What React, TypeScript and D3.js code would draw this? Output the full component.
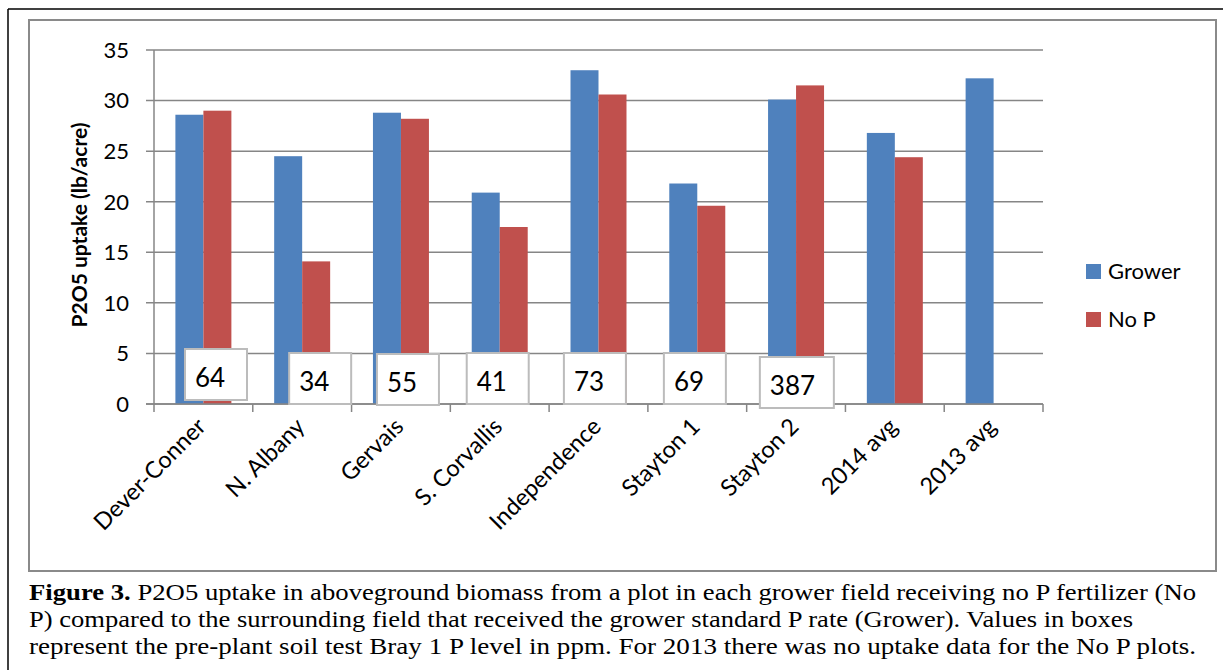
import React from "react";
import * as d3 from "d3";

const categories = ["Dever-Conner", "N. Albany", "Gervais", "S. Corvallis", "Independence", "Stayton 1", "Stayton 2", "2014 avg", "2013 avg"];
const growerValues: (number | null)[] = [28.6, 24.5, 28.8, 20.9, 33.0, 21.8, 30.1, 26.8, 32.2];
const noPValues: (number | null)[] = [29.0, 14.1, 28.2, 17.5, 30.6, 19.6, 31.5, 24.4, null];
const yTicks = [0, 5, 10, 15, 20, 25, 30, 35];
const soilTestValues = ["64", "34", "55", "41", "73", "69", "387"];
const seriesNames = ["Grower", "No P"];
const captionLines = [
  "P2O5 uptake in aboveground biomass from a plot in each grower field receiving no P fertilizer (No",
  "P) compared to the surrounding field that received the grower standard P rate (Grower). Values in boxes",
  "represent the pre-plant soil test Bray 1 P level in ppm. For 2013 there was no uptake data for the No P plots.",
];

// layout (hand-placed annotation boxes, as in the original)
const boxDx = [12.6, 18, 7, -2, -3.6, -2.4, 0.8];
const boxTop = [349, 353, 354, 353, 353, 353, 357];
const boxW = [62, 62, 62, 62, 62, 62, 74];
const captionLen = [1167, 1104, 1167];
const captionBase = [600, 627, 654];

const COLORS = ["#4F81BD", "#C0504D"];
const FONT = "Lato, 'Open Sans', sans-serif";

export default function App() {
  const W = 1223, H = 670;
  const x = d3.scaleBand<string>().domain(categories).range([154, 1043]).padding(0);
  const y = d3.scaleLinear().domain([0, 35]).range([404, 50]);
  const bw = x.bandwidth();
  const barW = (bw * 28) / 98.8;
  const off = (bw - 2 * barW) / 2;
  const series = [growerValues, noPValues];

  return (
    <svg width={W} height={H} style={{ position: "absolute", left: 0, top: 0, background: "#fff" }} fontFamily={FONT}>
      <rect x={0} y={0} width={W} height={H} fill="#fff" />
      {/* outer frame */}
      <line x1={8} y1={9} x2={W} y2={9} stroke="#000" strokeWidth={1.5} />
      <line x1={8} y1={9} x2={8} y2={H} stroke="#000" strokeWidth={1.5} />
      {/* chart area border */}
      <rect x={29} y={20} width={1187} height={551} fill="#fff" stroke="#8a8a8a" strokeWidth={2} />

      {/* gridlines + y ticks */}
      {yTicks.map((t) => (
        <g key={t}>
          <line x1={146} x2={1043} y1={y(t)} y2={y(t)} stroke="#868686" strokeWidth={1.5} />
          <text x={129} y={y(t)} dy="0.36em" textAnchor="end" fontSize={22} fill="#000">{t}</text>
        </g>
      ))}
      {/* y axis line */}
      <line x1={154} x2={154} y1={y(35)} y2={y(0)} stroke="#868686" strokeWidth={1.5} />
      {/* x ticks */}
      {[...categories.map((c) => x(c)!), 1043].map((px, i) => (
        <line key={i} x1={px} x2={px} y1={y(0)} y2={y(0) + 8} stroke="#868686" strokeWidth={1.5} />
      ))}

      {/* bars */}
      {series.map((vals, si) =>
        vals.map((v, i) =>
          v == null ? null : (
            <rect key={si + "-" + i} x={x(categories[i])! + off + si * barW} y={y(v)} width={barW} height={y(0) - y(v)} fill={COLORS[si]} />
          )
        )
      )}
      {/* redraw baseline over bars */}
      <line x1={146} x2={1043} y1={y(0)} y2={y(0)} stroke="#868686" strokeWidth={1.5} />

      {/* soil test boxes */}
      {soilTestValues.map((s, i) => {
        const cx = x(categories[i])! + bw / 2 + boxDx[i];
        const bx = cx - boxW[i] / 2;
        return (
          <g key={s}>
            <rect x={bx} y={boxTop[i]} width={boxW[i]} height={51} fill="#fff" stroke="#bcbcbc" strokeWidth={2} />
            <text x={bx + 10} y={boxTop[i] + 38} fontSize={26} fill="#000">{s}</text>
          </g>
        );
      })}

      {/* x labels */}
      {categories.map((c) => {
        const cx = x(c)! + bw / 2 + 4;
        return (
          <text key={c} transform={`translate(${cx},${428}) rotate(-45)`} textAnchor="end" fontSize={23.5} fill="#000">{c}</text>
        );
      })}

      {/* y title */}
      <text transform="translate(87,225) rotate(-90)" textAnchor="middle" fontSize={21} fontWeight="bold" fill="#000">P2O5 uptake (lb/acre)</text>

      {/* legend */}
      {seriesNames.map((n, i) => (
        <g key={n}>
          <rect x={1086} y={264 + i * 48} width={15} height={15} fill={COLORS[i]} />
          <text x={1108} y={279 + i * 48} fontSize={22} fill="#000">{n}</text>
        </g>
      ))}

      {/* caption */}
      <g fontFamily="'Liberation Serif', 'Times New Roman', serif" fontSize={23} fill="#000">
        <text x={29} y={captionBase[0]} textLength={captionLen[0]} lengthAdjust="spacingAndGlyphs">
          <tspan fontWeight="bold">Figure 3.</tspan> {captionLines[0]}
        </text>
        <text x={29} y={captionBase[1]} textLength={captionLen[1]} lengthAdjust="spacingAndGlyphs">{captionLines[1]}</text>
        <text x={29} y={captionBase[2]} textLength={captionLen[2]} lengthAdjust="spacingAndGlyphs">{captionLines[2]}</text>
      </g>
    </svg>
  );
}
